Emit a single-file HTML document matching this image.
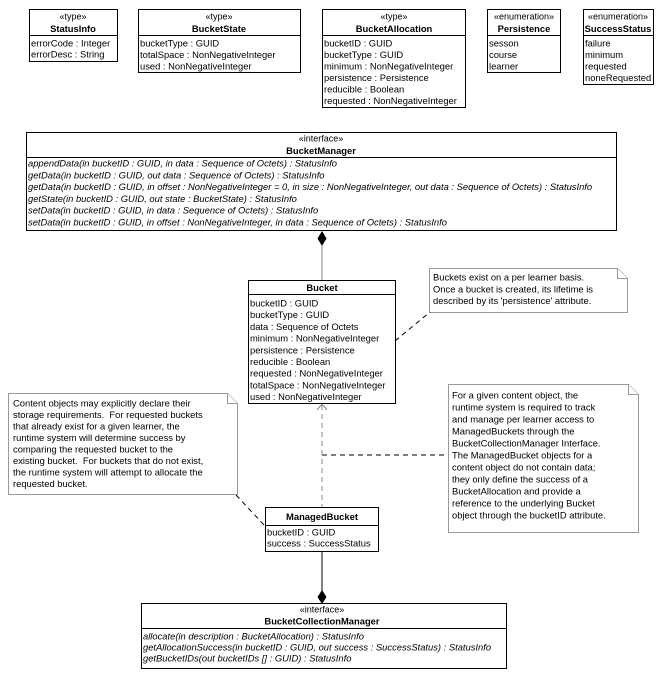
<!DOCTYPE html>
<html><head><meta charset="utf-8"><style>
html,body{margin:0;padding:0;background:#fff;}
svg{display:block;}
text{font-family:"Liberation Sans",Arial,sans-serif;font-size:9.4px;fill:#000;}
.b{font-weight:bold;}
.i{font-style:italic;}
.s{font-size:9px;}
</style></head><body>
<svg width="667" height="674" viewBox="0 0 667 674" xmlns="http://www.w3.org/2000/svg">
<g fill="#fff" stroke="#000" stroke-width="1">
<rect x="29.5" y="9.5" width="88" height="52"/><line x1="29.5" y1="35.5" x2="117.5" y2="35.5"/>
<rect x="138.5" y="9.5" width="162" height="63"/><line x1="138.5" y1="35.5" x2="300.5" y2="35.5"/>
<rect x="322.5" y="9.5" width="143" height="98"/><line x1="322.5" y1="35.5" x2="465.5" y2="35.5"/>
<rect x="487.5" y="9.5" width="73" height="63"/><line x1="487.5" y1="35.5" x2="560.5" y2="35.5"/>
<rect x="583.5" y="9.5" width="70" height="75"/><line x1="583.5" y1="35.5" x2="653.5" y2="35.5"/>
<rect x="26.5" y="132.5" width="590" height="98"/><line x1="26.5" y1="157.5" x2="616.5" y2="157.5"/>
<rect x="248.5" y="280.5" width="147" height="123"/><line x1="248.5" y1="294.5" x2="395.5" y2="294.5"/>
<rect x="265.5" y="507.5" width="113" height="44"/><line x1="265.5" y1="525.5" x2="378.5" y2="525.5"/>
<rect x="141.5" y="603.5" width="365" height="65"/><line x1="141.5" y1="628.5" x2="506.5" y2="628.5"/>
</g>
<g fill="#fff" stroke="#999" stroke-width="1">
<path d="M429.5 268.5 H617.5 L627.5 278.5 V312.5 H429.5 Z"/><path d="M617.5 268.5 V278.5 H627.5"/>
<path d="M448.5 384.5 H628.5 L638.5 394.5 V532.5 H448.5 Z"/><path d="M628.5 384.5 V394.5 H638.5"/>
<path d="M8.5 393.5 H227.5 L237.5 403.5 V494.5 H8.5 Z"/><path d="M227.5 393.5 V403.5 H237.5"/>
</g>
<line x1="322" y1="246" x2="322" y2="280" stroke="#888"/>
<polygon points="322,231 326.5,238.5 322,246 317.5,238.5" fill="#000"/>
<line x1="322" y1="551" x2="322" y2="592" stroke="#000"/>
<polygon points="322,590 326.5,597 322,604 317.5,597" fill="#000"/>
<g stroke="#000" stroke-dasharray="5,4" fill="none">
<line x1="395" y1="341" x2="430" y2="312"/>
<line x1="322" y1="455" x2="448" y2="455"/>
<line x1="236" y1="495" x2="265" y2="526"/>
</g>
<line x1="322" y1="405" x2="322" y2="507" stroke="#888" stroke-dasharray="5,4"/>
<polyline points="317,410 322,404 327,410" fill="none" stroke="#888"/>

<text x="73" y="19.5" text-anchor="middle" class="s">«type»</text>
<text x="73" y="32" text-anchor="middle" class="b">StatusInfo</text>
<text x="31" y="46.5">errorCode : Integer</text>
<text x="31" y="57.5">errorDesc : String</text>

<text x="219" y="19.5" text-anchor="middle" class="s">«type»</text>
<text x="219" y="32" text-anchor="middle" class="b">BucketState</text>
<text x="140" y="46.5">bucketType : GUID</text>
<text x="140" y="58">totalSpace : NonNegativeInteger</text>
<text x="140" y="69.5">used : NonNegativeInteger</text>

<text x="394" y="19.5" text-anchor="middle" class="s">«type»</text>
<text x="394" y="32" text-anchor="middle" class="b">BucketAllocation</text>
<text x="324" y="46.5">bucketID : GUID</text>
<text x="324" y="58">bucketType : GUID</text>
<text x="324" y="69.5">minimum : NonNegativeInteger</text>
<text x="324" y="81">persistence : Persistence</text>
<text x="324" y="92.5">reducible : Boolean</text>
<text x="324" y="104">requested : NonNegativeInteger</text>

<text x="524" y="19.5" text-anchor="middle" class="s">«enumeration»</text>
<text x="524" y="32" text-anchor="middle" class="b">Persistence</text>
<text x="489" y="46.5">sesson</text>
<text x="489" y="58">course</text>
<text x="489" y="69.5">learner</text>

<text x="618" y="19.5" text-anchor="middle" class="s">«enumeration»</text>
<text x="618" y="32" text-anchor="middle" class="b">SuccessStatus</text>
<text x="585" y="46.5">failure</text>
<text x="585" y="58">minimum</text>
<text x="585" y="69.5">requested</text>
<text x="585" y="81">noneRequested</text>

<text x="321" y="141.5" text-anchor="middle" class="s">«interface»</text>
<text x="321" y="154" text-anchor="middle" class="b">BucketManager</text>
<g class="i">
<text x="28" y="166.5">appendData(in bucketID : GUID, in data : Sequence of Octets) : StatusInfo</text>
<text x="28" y="178.3">getData(in bucketID : GUID, out data : Sequence of Octets) : StatusInfo</text>
<text x="28" y="190.1">getData(in bucketID : GUID, in offset : NonNegativeInteger = 0, in size : NonNegativeInteger, out data : Sequence of Octets) : StatusInfo</text>
<text x="28" y="201.9">getState(in bucketID : GUID, out state : BucketState) : StatusInfo</text>
<text x="28" y="213.7">setData(in bucketID : GUID, in data : Sequence of Octets) : StatusInfo</text>
<text x="28" y="225.5">setData(in bucketID : GUID, in offset : NonNegativeInteger, in data : Sequence of Octets) : StatusInfo</text>
</g>

<text x="322" y="291" text-anchor="middle" class="b">Bucket</text>
<text x="250" y="306.5">bucketID : GUID</text>
<text x="250" y="318.2">bucketType : GUID</text>
<text x="250" y="329.9">data : Sequence of Octets</text>
<text x="250" y="341.6">minimum : NonNegativeInteger</text>
<text x="250" y="353.3">persistence : Persistence</text>
<text x="250" y="365">reducible : Boolean</text>
<text x="250" y="376.7">requested : NonNegativeInteger</text>
<text x="250" y="388.4">totalSpace : NonNegativeInteger</text>
<text x="250" y="400.1">used : NonNegativeInteger</text>

<text x="322" y="520" text-anchor="middle" class="b">ManagedBucket</text>
<text x="267" y="535.5">bucketID : GUID</text>
<text x="267" y="546.5">success : SuccessStatus</text>

<text x="322" y="612.5" text-anchor="middle" class="s">«interface»</text>
<text x="322" y="624.5" text-anchor="middle" class="b">BucketCollectionManager</text>
<g class="i">
<text x="143" y="639.5">allocate(in description : BucketAllocation) : StatusInfo</text>
<text x="143" y="650.5">getAllocationSuccess(in bucketID : GUID, out success : SuccessStatus) : StatusInfo</text>
<text x="143" y="661.5">getBucketIDs(out bucketIDs [] : GUID) : StatusInfo</text>
</g>

<text x="433" y="280.5">Buckets exist on a per learner basis.</text>
<text x="433" y="292.3">Once a bucket is created, its lifetime is</text>
<text x="433" y="304">described by its 'persistence' attribute.</text>

<text x="452" y="398.5">For a given content object, the</text>
<text x="452" y="410.5">runtime system is required to track</text>
<text x="452" y="422.5">and manage per learner access to</text>
<text x="452" y="434.5">ManagedBuckets through the</text>
<text x="452" y="446.5">BucketCollectionManager Interface.</text>
<text x="452" y="458.5">The ManagedBucket objects for a</text>
<text x="452" y="470.5">content object do not contain data;</text>
<text x="452" y="482.5">they only define the success of a</text>
<text x="452" y="494.5">BucketAllocation and provide a</text>
<text x="452" y="506.5">reference to the underlying Bucket</text>
<text x="452" y="518.5">object through the bucketID attribute.</text>

<text x="13" y="406.5">Content objects may explicitly declare their</text>
<text x="13" y="418">storage requirements.&#160; For requested buckets</text>
<text x="13" y="429.5">that already exist for a given learner, the</text>
<text x="13" y="441">runtime system will determine success by</text>
<text x="13" y="452.5">comparing the requested bucket to the</text>
<text x="13" y="464">existing bucket.&#160; For buckets that do not exist,</text>
<text x="13" y="475.5">the runtime system will attempt to allocate the</text>
<text x="13" y="487">requested bucket.</text>
</svg>
</body></html>
